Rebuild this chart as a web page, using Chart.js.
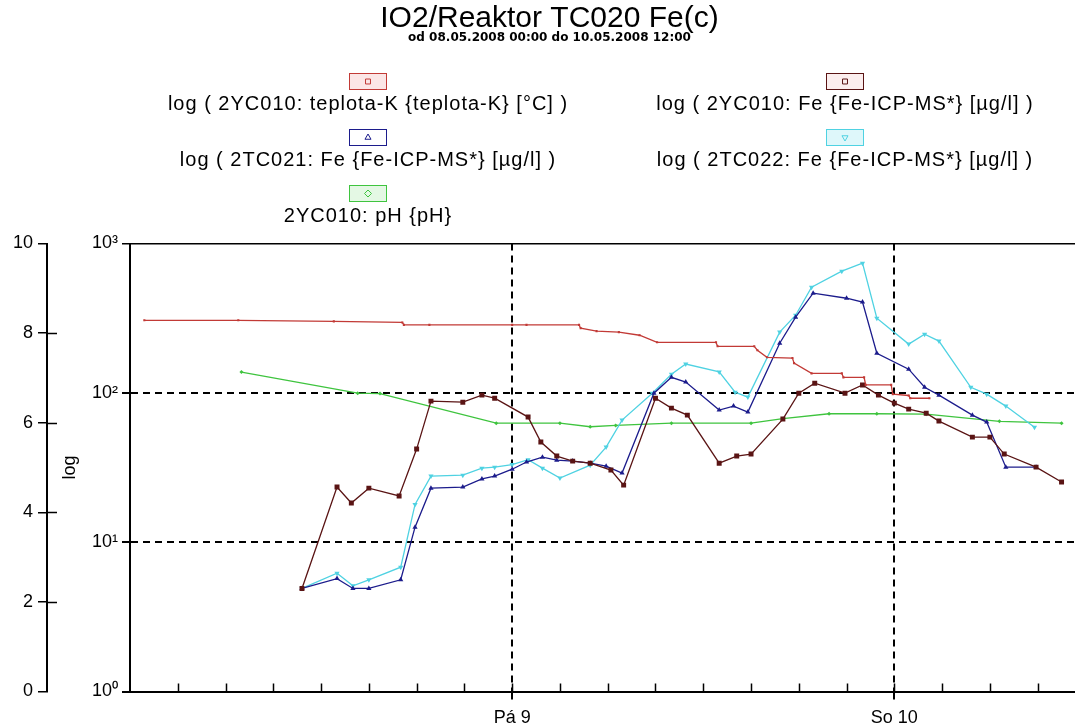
<!DOCTYPE html>
<html>
<head>
<meta charset="utf-8">
<title>IO2/Reaktor TC020 Fe(c)</title>
<script src="https://cdn.jsdelivr.net/npm/chart.js@4.4.0/dist/chart.umd.min.js"></script>
<style>
  html, body { margin: 0; padding: 0; background: #fff; overflow: hidden; }
  #wrap { position: relative; width: 1099px; height: 728px; }
</style>
</head>
<body>
<div id="wrap"><canvas id="chart"></canvas></div>
<script>
// x values are hours since 08.05.2008 00:00
const tempHours = [0.9, 6.8, 12.8, 17.1, 17.2, 18.8, 24.0, 24.9, 28.2, 28.3, 29.3, 30.7, 32.0, 33.1, 36.8, 36.9, 39.2, 39.4, 40.0, 41.6, 41.7, 42.8, 44.7, 44.8, 46.1, 46.2, 47.8, 47.9, 48.9, 49.0, 50.2];
const tempValues = [306, 306, 301, 296, 285, 285, 285, 285, 285, 271, 259, 255, 243, 218, 218, 205, 205, 193, 173, 171, 158, 135, 135, 127, 127, 113, 113, 98, 96, 92, 92];

const fe010Hours = [10.8, 13.0, 13.9, 15.0, 16.9, 18.0, 18.9, 20.9, 22.1, 22.9, 25.0, 25.8, 26.8, 27.8, 28.9, 30.2, 31.0, 33.0, 34.0, 35.0, 37.0, 38.1, 39.0, 41.0, 42.0, 43.0, 44.9, 46.0, 47.0, 48.0, 48.9, 50.0, 50.8, 52.9, 54.0, 54.9, 56.9, 58.5];
const fe010Values = [4.9, 23.4, 18.3, 23.0, 20.4, 42.0, 88.0, 86.6, 96.5, 92.1, 68.8, 46.8, 37.7, 34.9, 33.8, 30.4, 24.1, 92.1, 79.0, 70.9, 33.8, 37.7, 38.9, 66.7, 99.5, 116, 99.5, 113, 96.5, 85.3, 77.8, 73.1, 64.7, 50.5, 50.5, 38.9, 31.8, 25.3];

const fe021Hours = [10.8, 13.0, 14.0, 15.0, 17.0, 17.9, 18.9, 20.9, 22.1, 22.9, 24.0, 24.9, 25.9, 26.8, 27.8, 28.9, 29.9, 30.9, 32.9, 34.0, 34.9, 37.0, 37.9, 38.8, 40.8, 41.8, 42.9, 45.0, 46.0, 46.9, 48.9, 49.9, 50.8, 52.9, 53.8, 55.0, 56.9];
const fe021Values = [4.9, 5.7, 4.9, 4.9, 5.6, 12.6, 23.0, 23.4, 26.5, 27.7, 30.8, 34.4, 37.1, 35.4, 34.9, 33.8, 32.3, 29.0, 99.5, 127, 118, 76.6, 81.5, 74.3, 215, 321, 465, 430, 405, 184, 144, 109, 96.5, 70.9, 63.7, 31.8, 31.8];

const fe022Hours = [10.8, 13.0, 14.0, 15.0, 17.0, 17.9, 18.9, 20.9, 22.1, 22.9, 24.0, 25.0, 25.9, 27.0, 28.9, 29.9, 30.9, 32.8, 34.0, 34.9, 37.0, 38.0, 38.8, 40.8, 41.8, 42.8, 44.7, 46.0, 46.9, 48.9, 49.9, 50.8, 52.8, 53.8, 55.0, 56.8];
const fe022Values = [4.9, 6.2, 5.1, 5.6, 6.8, 17.9, 27.7, 28.1, 31.3, 31.8, 33.1, 35.7, 31.3, 26.9, 32.8, 43.3, 65.7, 99.5, 133, 156, 138, 101, 93.6, 255, 331, 510, 653, 738, 316, 212, 247, 222, 109, 98, 81.5, 58.9];

const phHours = [7.0, 14.3, 15.7, 23.0, 27.0, 28.9, 30.5, 34.0, 39.0, 41.0, 43.9, 46.9, 50.0, 54.6, 58.5];
const phValues = [7.13, 6.66, 6.65, 5.99, 5.99, 5.91, 5.94, 5.99, 5.99, 6.09, 6.20, 6.20, 6.19, 6.03, 5.99];

const seriesLabels = [
  'log ( 2YC010: teplota-K {teplota-K} [°C] )',
  'log ( 2YC010: Fe {Fe-ICP-MS*} [µg/l] )',
  'log ( 2TC021: Fe {Fe-ICP-MS*} [µg/l] )',
  'log ( 2TC022: Fe {Fe-ICP-MS*} [µg/l] )',
  '2YC010: pH {pH}'
];

const dayLabels = { 24: 'Pá 9', 48: 'So 10' };
const logTickLabels = { 1: '10⁰', 10: '10¹', 100: '10²', 1000: '10³' };
const logTickValues = [1, 10, 100, 1000];

const toPoints = (xs, ys) => xs.map((x, i) => ({ x, y: ys[i] }));
const hourTicks = [];
for (let h = 0; h <= 60; h += 3) hourTicks.push(h);

Chart.defaults.font.family = '"Liberation Sans", Arial, sans-serif';
Chart.defaults.color = '#000';

const fontStack = '"Liberation Sans", Arial, sans-serif';

// legend: small framed marker with the label centred below, two columns
const boxLegend = {
  id: 'boxLegend',
  afterDraw(chart) {
    const ctx = chart.ctx;
    const columns = [368, 845];
    chart.data.datasets.forEach((ds, i) => {
      const cx = columns[i % 2];
      const top = 73 + Math.floor(i / 2) * 56;
      ctx.save();
      ctx.fillStyle = ds.legendFill;
      ctx.fillRect(cx - 19, top, 38, 17);
      ctx.strokeStyle = ds.borderColor;
      ctx.lineWidth = 1;
      ctx.strokeRect(cx - 18.5, top + 0.5, 37, 16);
      ctx.fillStyle = ds.legendFill;
      Chart.helpers.drawPoint(ctx, {
        pointStyle: ds.pointStyle,
        rotation: ds.pointRotation || 0,
        radius: 3.5,
        borderWidth: 1
      }, cx, top + 8.5);
      ctx.fillStyle = '#000';
      ctx.font = '20px ' + fontStack;
      ctx.letterSpacing = '1px';
      ctx.textAlign = 'center';
      ctx.textBaseline = 'middle';
      ctx.fillText(ds.label, cx, top + 31);
      ctx.restore();
    });
  }
};

// inner minor ticks on the time axis and crossing ticks on the pH axis
const axisMarks = {
  id: 'axisMarks',
  afterDraw(chart) {
    const { ctx, chartArea, scales } = chart;
    const x = scales.x, yPh = scales.yPh;
    ctx.save();
    ctx.strokeStyle = '#000';
    ctx.lineWidth = 1.5;
    ctx.beginPath();
    hourTicks.forEach(h => {
      if (h === 0) return;
      const px = Math.round(x.getPixelForValue(h)) + 0.5;
      ctx.moveTo(px, chartArea.bottom);
      ctx.lineTo(px, chartArea.bottom - 8);
    });
    yPh.ticks.forEach(t => {
      if (t.value > 0 && t.value < 10) {
        const py = Math.round(yPh.getPixelForValue(t.value)) + 0.5;
        ctx.moveTo(yPh.right, py);
        ctx.lineTo(yPh.right + 10, py);
      }
    });
    ctx.stroke();
    ctx.restore();
  }
};

const isDay = c => c.tick && dayLabels[c.tick.value] !== undefined;

new Chart(document.getElementById('chart'), {
  type: 'line',
  data: {
    datasets: [
      {
        label: seriesLabels[0], data: toPoints(tempHours, tempValues), yAxisID: 'y',
        borderColor: '#c23a36', backgroundColor: '#c23a36', legendFill: '#fbe6e6',
        pointStyle: 'rect', pointRadius: 1.5
      },
      {
        label: seriesLabels[1], data: toPoints(fe010Hours, fe010Values), yAxisID: 'y',
        borderColor: '#5a1414', backgroundColor: '#5a1414', legendFill: '#fbeeee',
        pointStyle: 'rect', pointRadius: 3.5
      },
      {
        label: seriesLabels[2], data: toPoints(fe021Hours, fe021Values), yAxisID: 'y',
        borderColor: '#1c1c8c', backgroundColor: '#1c1c8c', legendFill: '#ffffff',
        pointStyle: 'triangle', pointRadius: 3
      },
      {
        label: seriesLabels[3], data: toPoints(fe022Hours, fe022Values), yAxisID: 'y',
        borderColor: '#4fd2e2', backgroundColor: '#4fd2e2', legendFill: '#def7fa',
        pointStyle: 'triangle', pointRotation: 180, pointRadius: 3
      },
      {
        label: seriesLabels[4], data: toPoints(phHours, phValues), yAxisID: 'yPh',
        borderColor: '#3fc43f', backgroundColor: '#3fc43f', legendFill: '#e4f8e4',
        pointStyle: 'rectRot', pointRadius: 2
      }
    ]
  },
  options: {
    responsive: true,
    maintainAspectRatio: false,
    animation: false,
    layout: { padding: 0 },
    elements: {
      line: { borderWidth: 1.3, tension: 0 },
      point: { borderWidth: 0 }
    },
    scales: {
      x: {
        // the plot runs past the right edge of the window (range ends 10.05 12:00)
        type: 'linear', min: 0, max: 60.6,
        afterBuildTicks: s => { s.ticks = hourTicks.map(v => ({ value: v })); },
        afterFit: s => { s.height = 36.5; },
        ticks: {
          autoSkip: false, maxRotation: 0, padding: 8,
          font: { size: 18 },
          callback: v => dayLabels[v] || ''
        },
        grid: {
          color: c => isDay(c) ? '#000' : 'rgba(0,0,0,0)',
          tickColor: c => isDay(c) ? '#000' : 'rgba(0,0,0,0)',
          lineWidth: 2, tickLength: 8
        },
        border: { color: '#000', width: 2, dash: c => isDay(c) ? [7, 5] : [] }
      },
      y: {
        type: 'logarithmic', position: 'left', min: 1, max: 1000, weight: 0,
        afterBuildTicks: s => { s.ticks = logTickValues.map(v => ({ value: v })); },
        afterFit: s => { s.width = 83; },
        ticks: { padding: 4, font: { size: 18 }, callback: v => logTickLabels[v] },
        grid: {
          color: c => (c.tick && c.tick.value > 1) ? '#000' : 'rgba(0,0,0,0)',
          lineWidth: c => (c.tick && c.tick.value === 1000) ? 1.5 : 2,
          tickColor: '#000', tickLength: 8
        },
        border: {
          color: '#000', width: 2,
          dash: c => (c.tick && c.tick.value > 1 && c.tick.value < 1000) ? [7, 5] : []
        },
        title: { display: true, text: 'log', font: { size: 18 }, padding: { top: 12, bottom: 0 } }
      },
      yPh: {
        type: 'linear', position: 'left', min: 0, max: 10, weight: 1,
        afterFit: s => { s.width = 47; },
        ticks: { stepSize: 2, padding: 5, font: { size: 18 } },
        grid: { drawOnChartArea: false, tickLength: 9, tickColor: '#000', lineWidth: 1.5 },
        border: { color: '#000', width: 2 }
      }
    },
    plugins: {
      legend: { display: false },
      tooltip: { enabled: false },
      title: {
        display: true, text: 'IO2/Reaktor TC020 Fe(c)', color: '#000',
        font: { size: 30, weight: 'normal', lineHeight: 0.8 },
        padding: { top: 7, bottom: 0 }
      },
      subtitle: {
        display: true, text: 'od 08.05.2008 00:00 do 10.05.2008 12:00', color: '#000',
        font: { family: '"DejaVu Sans", sans-serif', size: 12, weight: 'bold', lineHeight: 1 },
        padding: { top: 1, bottom: 199.5 }
      }
    }
  },
  plugins: [boxLegend, axisMarks]
});
</script>
</body>
</html>
